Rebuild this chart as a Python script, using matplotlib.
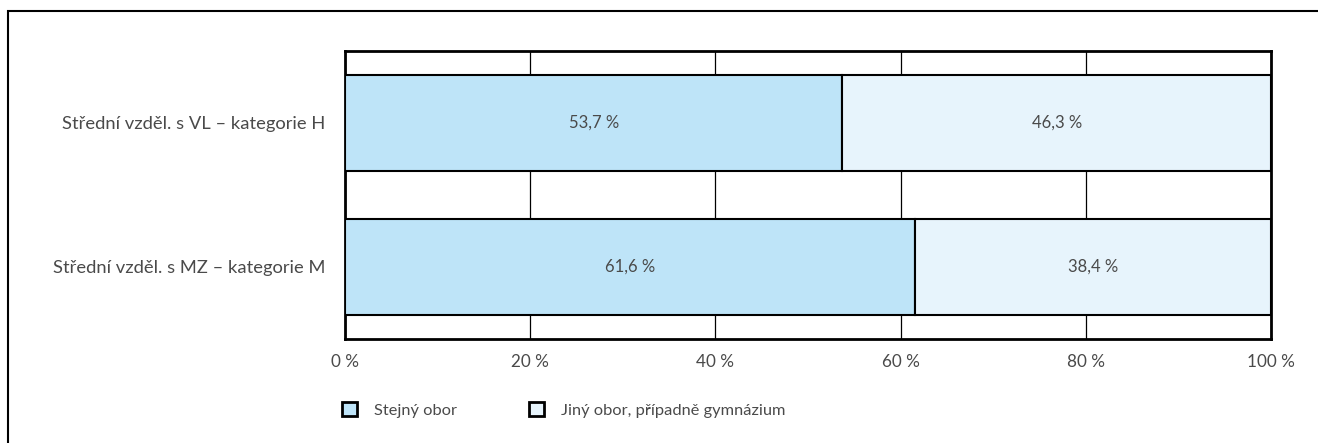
import matplotlib
matplotlib.use("Agg")
import matplotlib.pyplot as plt
from matplotlib.patches import Rectangle, Patch

categories = ["Střední vzděl. s MZ – kategorie M", "Střední vzděl. s VL – kategorie H"]
same_field = [61.6, 53.7]
other_field = [38.4, 46.3]
series_names = ["Stejný obor", "Jiný obor, případně gymnázium"]
xticks = [0, 20, 40, 60, 80, 100]
xtick_labels = ["0 %", "20 %", "40 %", "60 %", "80 %", "100 %"]

c1 = "#bee4f8"
c2 = "#e7f4fc"
txt = "#4a4a4a"
plt.rcParams['font.family'] = ['Lato', 'DejaVu Sans']

fig = plt.figure(figsize=(13.18, 4.43), dpi=100)
fig.patches.append(Rectangle((8/1318, -0.05), 1.2, (443-11)/443 + 0.05,
                             transform=fig.transFigure, fill=False,
                             edgecolor="black", linewidth=1.5))
ax = fig.add_axes([345/1318, (443-339)/443, (1271-345)/1318, 288/443])

y = list(range(len(categories)))
h = 2/3
ax.barh(y, same_field, height=h, color=c1, edgecolor="black", linewidth=1.5, zorder=3)
ax.barh(y, other_field, left=same_field, height=h, color=c2, edgecolor="black", linewidth=1.5, zorder=3)

for i in y:
    ax.text(same_field[i]/2, i, f"{same_field[i]:.1f} %".replace(".", ","),
            ha="center", va="center", fontsize=12, color=txt, zorder=4)
    ax.text(same_field[i] + other_field[i]/2, i, f"{other_field[i]:.1f} %".replace(".", ","),
            ha="center", va="center", fontsize=12, color=txt, zorder=4)

ax.set_xlim(0, 100)
ax.set_ylim(-0.5, 1.5)
ax.set_xticks(xticks)
ax.set_xticklabels(xtick_labels, fontsize=12.3, color=txt)
ax.set_yticks(y)
ax.set_yticklabels(categories, fontsize=13.2, color=txt)
ax.tick_params(length=0, pad=11)
ax.tick_params(axis="y", pad=14)
ax.grid(axis="x", color="black", linewidth=0.9, zorder=0)
ax.set_axisbelow(True)
for s in ax.spines.values():
    s.set_linewidth(2)
    s.set_color("black")

handles = [Patch(facecolor=c1, edgecolor="black", linewidth=2),
           Patch(facecolor=c2, edgecolor="black", linewidth=2)]
fig.legend(handles, series_names, loc="center left",
           bbox_to_anchor=(327/1318, (443-410)/443), ncol=2, frameon=False,
           fontsize=11.8, handlelength=0.95, handleheight=0.95,
           columnspacing=4.4, handletextpad=1.0, labelcolor=txt)

fig.savefig("out.png", dpi=100, facecolor="white")
